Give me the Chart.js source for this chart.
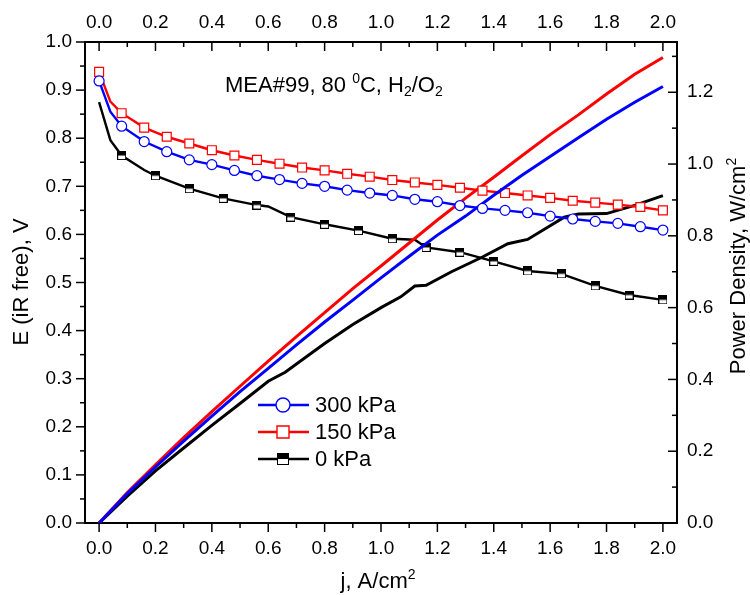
<!DOCTYPE html>
<html>
<head>
<meta charset="utf-8">
<script src="https://cdn.jsdelivr.net/npm/chart.js@4/dist/chart.umd.min.js"></script>
<style>body{margin:0;background:#fff}</style>
</head>
<body>
<canvas id="c" width="750" height="595"></canvas>
<script>
// current density j (A/cm2) and iR-free cell voltage E (V)
const jMark = [0, 0.04, 0.08, 0.16, 0.24, 0.32, 0.40, 0.48, 0.56, 0.64, 0.72, 0.80, 0.88, 0.96,
  1.04, 1.12, 1.20, 1.28, 1.36, 1.44, 1.52, 1.60, 1.68, 1.76, 1.84, 1.92, 2.00];
const e300 = [0.919, 0.855, 0.825, 0.793, 0.772, 0.755, 0.745, 0.733, 0.722, 0.714, 0.706, 0.700, 0.692, 0.686,
  0.681, 0.673, 0.668, 0.660, 0.654, 0.650, 0.645, 0.638, 0.632, 0.627, 0.623, 0.616, 0.609];
const e150 = [0.938, 0.876, 0.852, 0.822, 0.803, 0.789, 0.775, 0.764, 0.755, 0.747, 0.739, 0.733, 0.726, 0.720,
  0.713, 0.708, 0.703, 0.697, 0.691, 0.686, 0.681, 0.676, 0.670, 0.666, 0.662, 0.657, 0.650];
const j0 = [0, 0.04, 0.08, 0.16, 0.20, 0.32, 0.44, 0.56, 0.60, 0.68, 0.80, 0.92, 1.04, 1.12, 1.16,
  1.28, 1.40, 1.52, 1.64, 1.76, 1.88, 2.00];
const e0 = [0.875, 0.796, 0.764, 0.734, 0.722, 0.695, 0.675, 0.661, 0.658, 0.636, 0.621, 0.608, 0.591, 0.589, 0.573,
  0.563, 0.544, 0.524, 0.518, 0.493, 0.474, 0.464];
// points on the voltage curves that carry no symbol
const plain300 = [0.04], plain150 = [0.04], plain0 = [0, 0.04, 0.16, 0.60, 1.12];

// power density (W/cm2)
const jPow = [0, 0.1, 0.2, 0.3, 0.4, 0.5, 0.6, 0.7, 0.8, 0.9, 1.0, 1.1, 1.2, 1.3, 1.4, 1.5, 1.6, 1.7, 1.8, 1.9, 2.0];
const p300 = [0, 0.082, 0.156, 0.228, 0.298, 0.366, 0.431, 0.496, 0.560, 0.621, 0.683, 0.743, 0.802, 0.855, 0.913,
  0.969, 1.021, 1.073, 1.125, 1.172, 1.216];
const p150 = [0, 0.085, 0.162, 0.238, 0.310, 0.381, 0.451, 0.519, 0.586, 0.653, 0.716, 0.780, 0.844, 0.905, 0.963,
  1.023, 1.082, 1.137, 1.195, 1.250, 1.297];
const jPow0 = [0, 0.1, 0.2, 0.3, 0.4, 0.5, 0.6, 0.66, 0.8, 0.9, 1.0, 1.07, 1.12, 1.16, 1.25, 1.36, 1.45, 1.52,
  1.6, 1.65, 1.7, 1.8, 1.9, 2.0];
const p0 = [0, 0.075, 0.145, 0.209, 0.272, 0.333, 0.395, 0.42, 0.50, 0.553, 0.600, 0.630, 0.660, 0.662, 0.700,
  0.741, 0.778, 0.790, 0.828, 0.852, 0.861, 0.862, 0.885, 0.912];

const seriesNames = ['300 kPa', '150 kPa', '0 kPa'];
const xTicks = [0, 0.2, 0.4, 0.6, 0.8, 1.0, 1.2, 1.4, 1.6, 1.8, 2.0];
const yTicks = [0, 0.1, 0.2, 0.3, 0.4, 0.5, 0.6, 0.7, 0.8, 0.9, 1.0];
const y2Ticks = [0, 0.2, 0.4, 0.6, 0.8, 1.0, 1.2];

const FONT = 'Arial, "Liberation Sans", sans-serif';
Chart.defaults.font.family = FONT;
Chart.defaults.color = '#000';

const pts = (xs, ys) => xs.map((x, i) => ({x: x, y: ys[i]}));

function halfSquare(size) {
  const cv = document.createElement('canvas');
  cv.width = cv.height = size;
  const g = cv.getContext('2d');
  g.fillStyle = '#fff'; g.fillRect(0, 0, size, size);
  g.fillStyle = '#000'; g.fillRect(0, 0, size, size / 2);
  g.strokeStyle = '#000'; g.lineWidth = 1; g.strokeRect(0.5, 0.5, size - 1, size - 1);
  return cv;
}
const blackMark = halfSquare(9), blackMarkBig = halfSquare(12);

function vSet(label, xs, ys, plain, color, style, r) {
  return {
    label: label, data: pts(xs, ys), yAxisID: 'y',
    borderColor: color, borderWidth: 2.4, backgroundColor: '#fff',
    pointStyle: style, pointBorderColor: color, pointBackgroundColor: '#fff', pointBorderWidth: 1.2,
    pointRadius: c => (c.raw && plain.includes(c.raw.x)) ? 0 : r,
    tension: 0
  };
}
function pSet(label, xs, ys, color) {
  return {label: label, data: pts(xs, ys), yAxisID: 'y2', borderColor: color, borderWidth: 3,
    pointRadius: 0, tension: 0};
}

function axis(pos, min, max, ticks, size, pad, fmt) {
  const horiz = pos === 'bottom' || pos === 'top';
  return {
    type: 'linear', position: pos, min: min, max: max,
    afterBuildTicks: s => { s.ticks = ticks.map(v => ({value: v})); },
    afterFit: s => { if (horiz) s.height = size; else s.width = size; },
    grid: {display: false, drawTicks: false},
    border: {display: true, color: '#000', width: 2},
    ticks: {font: {size: 19}, color: '#000', padding: pad, autoSkip: false, maxRotation: 0,
      callback: v => v.toFixed(1)}
  };
}

function textRun(ctx, parts, x, y) {
  // parts: [text, size, dy]
  let cx = x;
  parts.forEach(p => {
    ctx.font = p[1] + 'px ' + FONT;
    ctx.fillText(p[0], cx, y + p[2]);
    cx += ctx.measureText(p[0]).width;
  });
}
function runWidth(ctx, parts) {
  let w = 0;
  parts.forEach(p => { ctx.font = p[1] + 'px ' + FONT; w += ctx.measureText(p[0]).width; });
  return w;
}

const decor = {
  id: 'decor',
  afterDraw(chart) {
    const ctx = chart.ctx, a = chart.chartArea, s = chart.scales;
    ctx.save();
    ctx.strokeStyle = '#000'; ctx.lineWidth = 1.5;
    const line = (x1, y1, x2, y2) => { ctx.beginPath(); ctx.moveTo(x1, y1); ctx.lineTo(x2, y2); ctx.stroke(); };
    for (let i = 0; i <= 20; i++) {
      const px = s.x.getPixelForValue(i / 10), len = i % 2 ? 5 : 9;
      line(px, a.bottom, px, a.bottom + len);
      line(px, a.top, px, a.top + len);
    }
    for (let i = 0; i <= 20; i++) {
      const py = s.y.getPixelForValue(i / 20), len = i % 2 ? 5 : 9;
      line(a.left, py, a.left - len, py);
    }
    for (let i = 0; i <= 13; i++) {
      const py = s.y2.getPixelForValue(i / 10), len = i % 2 ? 5 : 9;
      line(a.right, py, a.right - len, py);
    }

    ctx.fillStyle = '#000';
    ctx.textBaseline = 'alphabetic';
    ctx.textAlign = 'left';
    // annotation
    textRun(ctx, [['MEA#99, 80 ', 22, 0], ['0', 14, -9], ['C, H', 22, 0], ['2', 14, 4], ['/O', 22, 0], ['2', 14, 4]], 225, 92);

    // axis titles
    const xt = [['j, A/cm', 22, 0], ['2', 14, -9]];
    textRun(ctx, xt, 378 - runWidth(ctx, xt) / 2, 588);

    ctx.save();
    ctx.translate(28, 282); ctx.rotate(-Math.PI / 2);
    ctx.font = '22px ' + FONT; ctx.textAlign = 'center';
    ctx.fillText('E (iR free), V', 0, 0);
    ctx.restore();

    ctx.save();
    ctx.translate(745, 266); ctx.rotate(-Math.PI / 2);
    const yt = [['Power Density, W/cm', 22, 0], ['2', 14, -9]];
    textRun(ctx, yt, -runWidth(ctx, yt) / 2, 0);
    ctx.restore();

    // legend
    const rows = [405, 432, 459];
    const sets = [chart.data.datasets[0], chart.data.datasets[2], chart.data.datasets[4]];
    sets.forEach((d, i) => {
      const y = rows[i];
      ctx.strokeStyle = d.borderColor; ctx.lineWidth = 2.4;
      line(258, y, 309, y);
      if (i === 2) {
        ctx.drawImage(blackMarkBig, 283 - 6, y - 6);
      } else {
        ctx.fillStyle = '#fff'; ctx.strokeStyle = d.borderColor; ctx.lineWidth = 1.4;
        Chart.helpers.drawPoint(ctx, {pointStyle: d.pointStyle, radius: i === 0 ? 7 : 8.5, borderWidth: 1.4, rotation: 0}, 283, y);
      }
      ctx.fillStyle = '#000';
      ctx.font = '22px ' + FONT; ctx.textBaseline = 'middle';
      ctx.fillText(seriesNames[i], 315, y + 1);
    });
    ctx.restore();
  }
};

new Chart(document.getElementById('c'), {
  type: 'line',
  data: {
    datasets: [
      vSet(seriesNames[0], jMark, e300, plain300, '#0000ff', 'circle', 5),
      pSet(seriesNames[0], jPow, p300, '#0000ff'),
      vSet(seriesNames[1], jMark, e150, plain150, '#ff0000', 'rect', 6.3),
      pSet(seriesNames[1], jPow, p150, '#ff0000'),
      vSet(seriesNames[2], j0, e0, plain0, '#000000', blackMark, 5),
      pSet(seriesNames[2], jPow0, p0, '#000000')
    ]
  },
  options: {
    responsive: false, animation: false, events: [],
    layout: {padding: 0},
    plugins: {legend: {display: false}, tooltip: {enabled: false}},
    scales: {
      x: axis('bottom', -0.05, 2.05, xTicks, 72, 14),
      x2: axis('top', -0.05, 2.05, xTicks, 42, 8),
      y: axis('left', 0, 1, yTicks, 85, 13),
      y2: axis('right', 0, 1.34, y2Ticks, 73, 10)
    }
  },
  plugins: [decor]
});
</script>
</body>
</html>
